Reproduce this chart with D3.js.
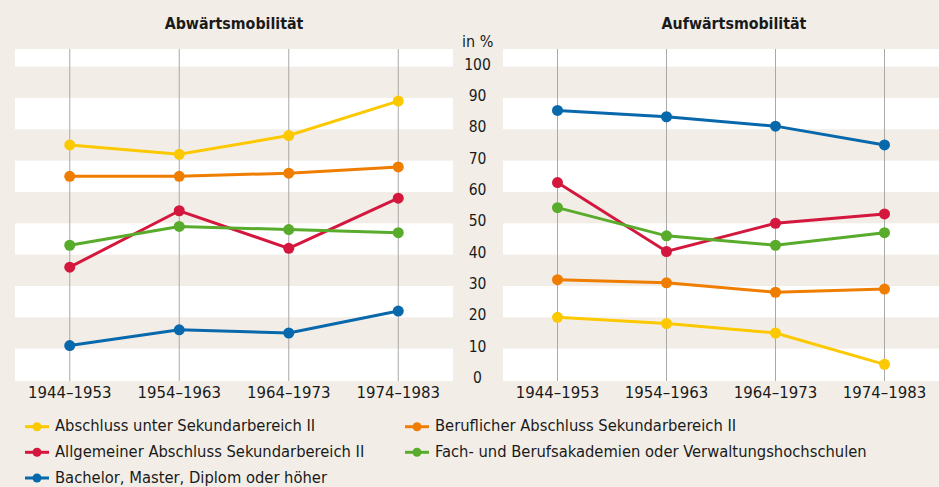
<!DOCTYPE html>
<html>
<head>
<meta charset="utf-8">
<script src="https://cdnjs.cloudflare.com/ajax/libs/d3/7.8.5/d3.min.js"></script>
<style>
  body { margin: 0; background: #f2eee7; }
  svg text { font-family: "DejaVu Sans Condensed", "DejaVu Sans", sans-serif; fill: #1a1a1a; }
</style>
</head>
<body>
<div id="chart"></div>
<script>
(function() {

  var cohorts = ["1944–1953", "1954–1963", "1964–1973", "1974–1983"];

  var seriesNames = [
    "Abschluss unter Sekundarbereich II",
    "Beruflicher Abschluss Sekundarbereich II",
    "Allgemeiner Abschluss Sekundarbereich II",
    "Fach- und Berufsakademien oder Verwaltungshochschulen",
    "Bachelor, Master, Diplom oder höher"
  ];
  var seriesColors = ["#fcc800", "#ef7d00", "#d4173d", "#58ab2b", "#0868ac"];

  // Abwärtsmobilität
  var downUnter     = [75, 72, 78, 89];
  var downBeruf     = [65, 65, 66, 68];
  var downAllgemein = [36, 54, 42, 58];
  var downFach      = [43, 49, 48, 47];
  var downBachelor  = [11, 16, 15, 22];

  // Aufwärtsmobilität
  var upUnter     = [20, 18, 15, 5];
  var upBeruf     = [32, 31, 28, 29];
  var upAllgemein = [63, 41, 50, 53];
  var upFach      = [55, 46, 43, 47];
  var upBachelor  = [86, 84, 81, 75];

  var yTicks = [0, 10, 20, 30, 40, 50, 60, 70, 80, 90, 100];

  var width = 939, height = 487,
      plotTop = 49, plotBottom = 381;

  var svg = d3.select("#chart")
    .append("svg")
    .attr("width", width)
    .attr("height", height);

  svg.append("rect")
    .attr("width", width)
    .attr("height", height)
    .attr("fill", "#f2eee7");

  var y = d3.scaleLinear().domain([0, 100]).range([380, 66.6]);

  var line = d3.line()
    .x(function(d) { return d.x; })
    .y(function(d) { return y(d.v); });

  function panel(title, titleX, x0, x1, data) {
    var x = d3.scalePoint().domain(cohorts).range([x0, x1]).padding(0.5);
    var g = svg.append("g");

    // white stripes
    var bands = [[100, null], [90, 80], [70, 60], [50, 40], [30, 20], [10, 0]];
    g.selectAll("rect.band")
      .data(bands)
      .enter().append("rect")
      .attr("class", "band")
      .attr("x", x0)
      .attr("width", x1 - x0)
      .attr("y", function(d) { return d[1] === null ? plotTop : y(d[0]); })
      .attr("height", function(d) {
        var top = d[1] === null ? plotTop : y(d[0]);
        var bot = d[1] === 0 ? plotBottom : (d[1] === null ? y(d[0]) : y(d[1]));
        return bot - top;
      })
      .attr("fill", "#ffffff");

    g.selectAll("line.grid")
      .data(cohorts)
      .enter().append("line")
      .attr("x1", function(d) { return x(d); })
      .attr("x2", function(d) { return x(d); })
      .attr("y1", plotTop)
      .attr("y2", plotBottom)
      .attr("stroke", "#a9a9a9")
      .attr("stroke-width", 1);

    g.append("text")
      .attr("x", titleX)
      .attr("y", 24)
      .attr("text-anchor", "middle")
      .attr("dominant-baseline", "middle")
      .attr("font-size", 15.8)
      .attr("font-weight", "bold")
      .text(title);

    g.selectAll("text.xl")
      .data(cohorts)
      .enter().append("text")
      .attr("class", "xl")
      .attr("x", function(d) { return x(d); })
      .attr("y", 393)
      .attr("text-anchor", "middle")
      .attr("dominant-baseline", "middle")
      .attr("font-size", 16.6)
      .text(function(d) { return d; });

    data.forEach(function(vals, i) {
      var pts = vals.map(function(v, j) { return { x: x(cohorts[j]), v: v }; });
      g.append("path")
        .datum(pts)
        .attr("d", line)
        .attr("fill", "none")
        .attr("stroke", seriesColors[i])
        .attr("stroke-width", 3);
      g.selectAll("circle.s" + i)
        .data(pts)
        .enter().append("circle")
        .attr("class", "s" + i)
        .attr("cx", function(d) { return d.x; })
        .attr("cy", function(d) { return y(d.v); })
        .attr("r", 5.5)
        .attr("fill", seriesColors[i]);
    });
  }

  panel("Abwärtsmobilität", 234, 15, 453,
    [downUnter, downBeruf, downAllgemein, downFach, downBachelor]);
  panel("Aufwärtsmobilität", 734, 503, 939,
    [upUnter, upBeruf, upAllgemein, upFach, upBachelor]);

  // y axis labels between panels
  svg.selectAll("text.yl")
    .data(yTicks)
    .enter().append("text")
    .attr("class", "yl")
    .attr("x", 477.5)
    .attr("y", function(d) { return y(d) - 1.5; })
    .attr("text-anchor", "middle")
    .attr("dominant-baseline", "middle")
    .attr("font-size", 15.5)
    .text(function(d) { return d; });

  svg.append("text")
    .attr("x", 462)
    .attr("y", 42)
    .attr("dominant-baseline", "middle")
    .attr("font-size", 16)
    .text("in %");

  // legend
  var legendPos = [[37, 426.7], [417, 426.7], [37, 452.3], [417, 452.3], [37, 478]];
  var lg = svg.selectAll("g.legend")
    .data(seriesNames)
    .enter().append("g")
    .attr("class", "legend")
    .attr("transform", function(d, i) {
      return "translate(" + legendPos[i][0] + "," + legendPos[i][1] + ")";
    });
  lg.append("line")
    .attr("x1", -12).attr("x2", 12)
    .attr("stroke", function(d, i) { return seriesColors[i]; })
    .attr("stroke-width", 3);
  lg.append("circle")
    .attr("r", 4.5)
    .attr("fill", function(d, i) { return seriesColors[i]; });
  lg.append("text")
    .attr("x", 18)
    .attr("dominant-baseline", "middle")
    .attr("font-size", 16.4)
    .text(function(d) { return d; });

})();
</script>
</body>
</html>
